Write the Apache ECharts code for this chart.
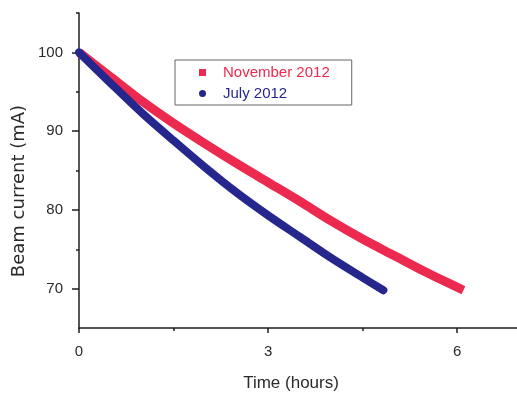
<!DOCTYPE html>
<html>
<head>
<meta charset="utf-8">
<script src="https://cdn.jsdelivr.net/npm/echarts@6/dist/echarts.min.js"></script>
<style>
  html, body { margin: 0; padding: 0; background: #ffffff; }
  #chart { width: 517px; height: 397px; }
</style>
</head>
<body>
<div id="chart"></div>
<script>
// Beam current decay for two runs
const novHours = [0, 0.5, 1.0, 1.5, 2.0, 2.5, 3.0, 3.5, 4.0, 4.5, 5.0, 5.5, 6.1];
const novCurrent = [100, 96.9, 93.8, 91.0, 88.4, 85.9, 83.5, 81.1, 78.6, 76.3, 74.2, 72.1, 69.8];

const julHours = [0, 0.5, 1.0, 1.5, 2.0, 2.5, 3.0, 3.5, 4.0, 4.5, 4.83];
const julCurrent = [100, 96.1, 92.3, 88.8, 85.4, 82.2, 79.3, 76.6, 73.9, 71.4, 69.8];

const xMajorTicks = [0, 3, 6];
const xMinorTicks = [1.5, 4.5];
const yMajorTicks = [70, 80, 90, 100];
const yMinorTicks = [75, 85, 95, 105];

const seriesNames = ['November 2012', 'July 2012'];
const RED = '#ec2a50';
const BLUE = '#26278c';
const AXIS = '#1e1e1e';
const TEXT = '#2a2a2a';
const FONT = 'Liberation Sans, Arial, sans-serif';
const WIDE_FONT = 'DejaVu Sans, Verdana, sans-serif';

const pairs = (xs, ys) => xs.map((x, i) => [x, ys[i]]);

const chart = echarts.init(document.getElementById('chart'), null, { renderer: 'canvas' });

chart.setOption({
  backgroundColor: '#ffffff',
  animation: false,
  grid: { left: 79, right: 0, top: 13, bottom: 63, containLabel: false },
  legend: {
    orient: 'vertical',
    left: 175,
    top: 60,
    padding: [5, 22, 4, 24],
    itemGap: 6,
    itemWidth: 7,
    itemHeight: 7,
    borderColor: '#666666',
    borderWidth: 1,
    backgroundColor: '#ffffff',
    textStyle: { fontFamily: FONT, fontSize: 15, padding: [0, 0, 0, 12] },
    data: [
      { name: seriesNames[0], icon: 'rect', itemStyle: { color: RED }, textStyle: { color: RED } },
      { name: seriesNames[1], icon: 'circle', itemStyle: { color: BLUE }, textStyle: { color: BLUE } }
    ]
  },
  xAxis: [
    {
      type: 'value',
      min: 0,
      max: 6.95,
      position: 'bottom',
      name: 'Time (hours)',
      nameLocation: 'middle',
      nameGap: 47,
      nameTextStyle: { fontFamily: FONT, fontSize: 17, color: TEXT, padding: [0, 14, 0, 0] },
      axisLine: { onZero: false, lineStyle: { color: AXIS, width: 1.5 } },
      axisTick: { customValues: xMajorTicks, length: 5, lineStyle: { color: AXIS, width: 1.5 } },
      axisLabel: { customValues: xMajorTicks, margin: 16, fontFamily: FONT, fontSize: 15, color: TEXT },
      splitLine: { show: false }
    },
    {
      type: 'value',
      min: 0,
      max: 6.95,
      position: 'bottom',
      axisLine: { show: false, onZero: false },
      axisTick: { customValues: xMinorTicks, length: 3, lineStyle: { color: AXIS, width: 1.5 } },
      axisLabel: { show: false },
      splitLine: { show: false }
    }
  ],
  yAxis: [
    {
      type: 'value',
      min: 65,
      max: 105,
      position: 'left',
      axisLine: { onZero: false, lineStyle: { color: AXIS, width: 1.5 } },
      axisTick: { customValues: yMajorTicks, length: 7, lineStyle: { color: AXIS, width: 1.5 } },
      axisLabel: { customValues: yMajorTicks, margin: 16, fontFamily: FONT, fontSize: 15, color: TEXT },
      splitLine: { show: false }
    },
    {
      type: 'value',
      min: 65,
      max: 105,
      position: 'left',
      axisLine: { show: false, onZero: false },
      axisTick: { customValues: yMinorTicks, length: 3, lineStyle: { color: AXIS, width: 1.5 } },
      axisLabel: { show: false },
      splitLine: { show: false }
    }
  ],
  graphic: [
    {
      type: 'text',
      x: 19,
      y: 191,
      rotation: Math.PI / 2,
      style: {
        text: 'Beam current (mA)',
        fontFamily: WIDE_FONT,
        fontSize: 18,
        fill: TEXT,
        align: 'center',
        verticalAlign: 'middle'
      }
    }
  ],
  series: [
    {
      name: seriesNames[0],
      type: 'line',
      xAxisIndex: 0,
      yAxisIndex: 0,
      data: pairs(novHours, novCurrent),
      smooth: 0.3,
      showSymbol: false,
      symbol: 'rect',
      itemStyle: { color: RED },
      lineStyle: { color: RED, width: 9, cap: 'butt' },
      z: 2
    },
    {
      name: seriesNames[1],
      type: 'line',
      xAxisIndex: 0,
      yAxisIndex: 0,
      data: pairs(julHours, julCurrent),
      smooth: 0.3,
      showSymbol: false,
      symbol: 'circle',
      itemStyle: { color: BLUE },
      lineStyle: { color: BLUE, width: 8, cap: 'round' },
      z: 3
    }
  ]
});
</script>
</body>
</html>
